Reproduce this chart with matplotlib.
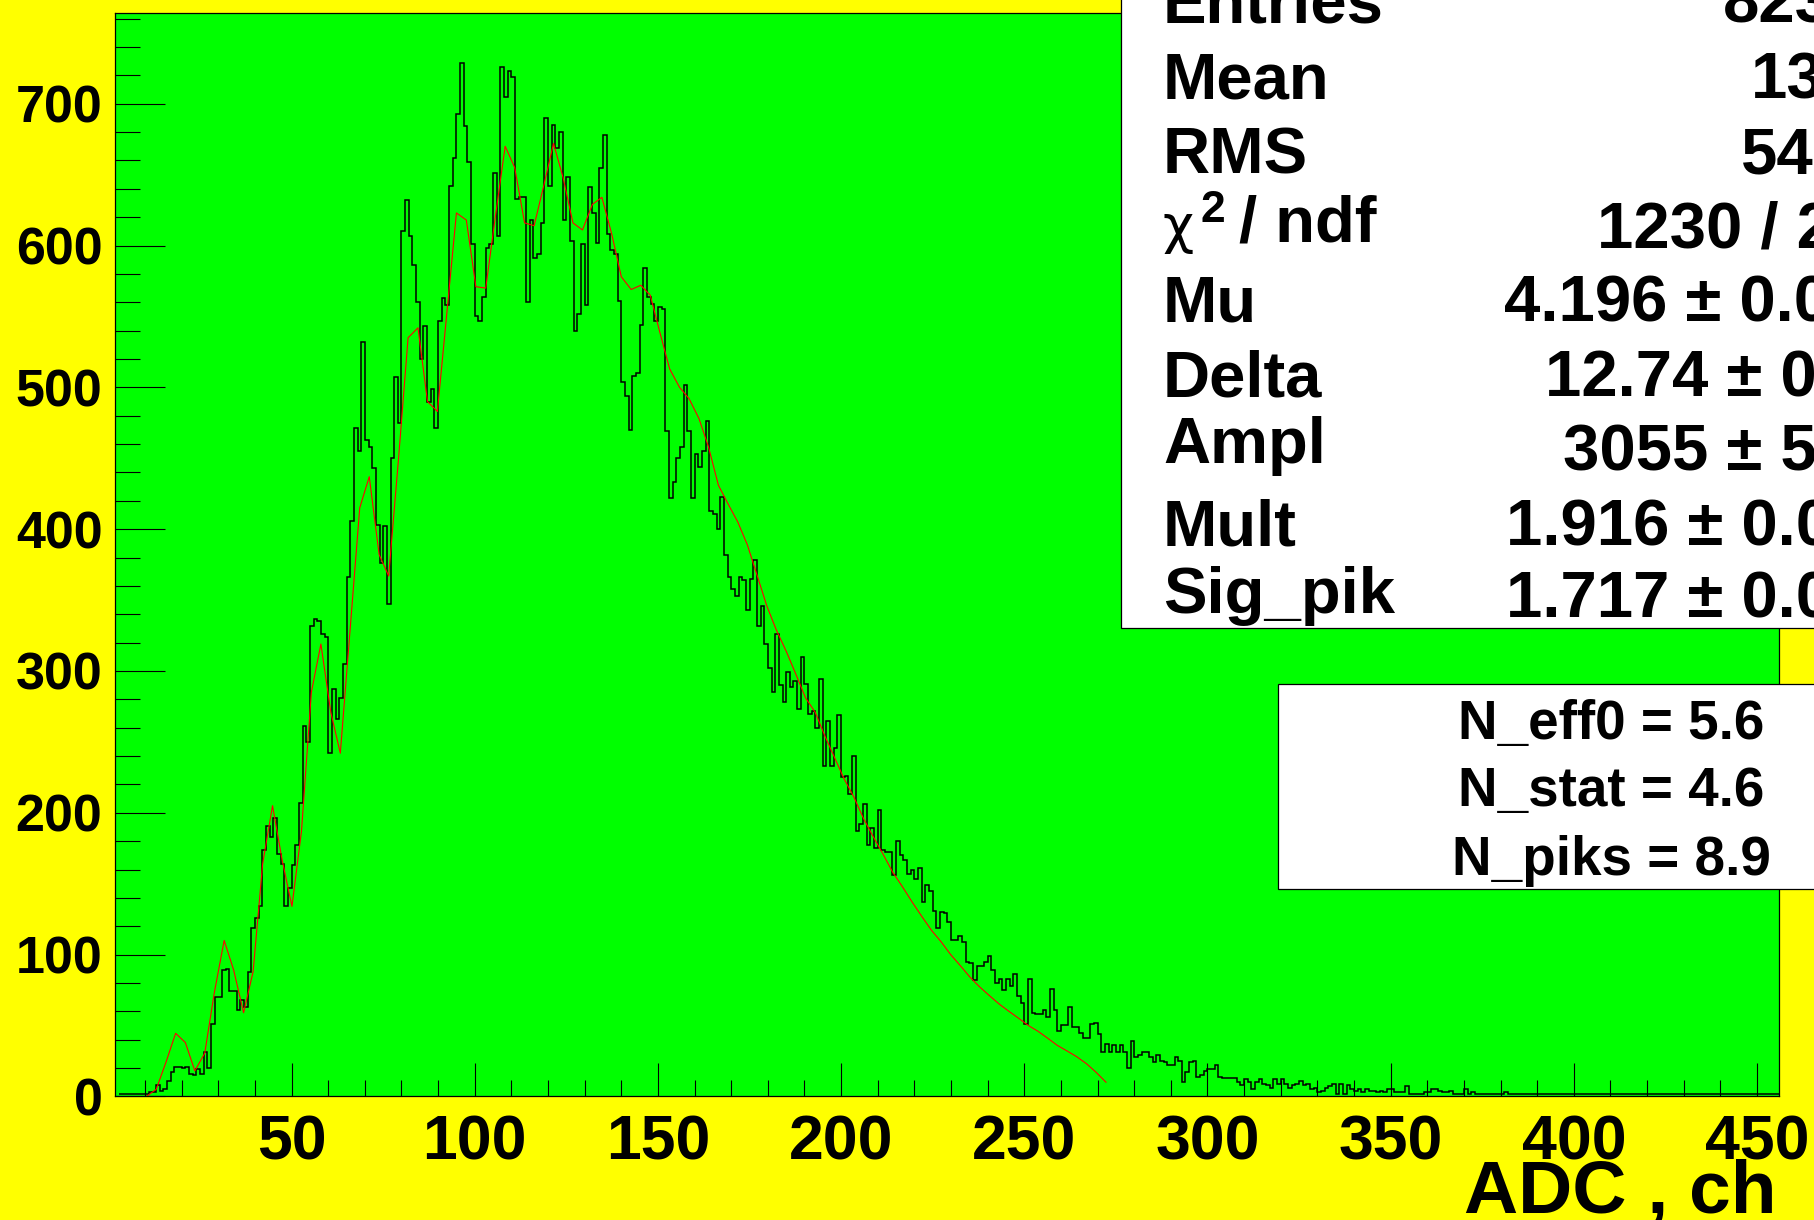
import numpy as np
import matplotlib
matplotlib.use('Agg')
import matplotlib.pyplot as plt
from matplotlib.patches import Rectangle
from matplotlib.ticker import MultipleLocator

plt.rcParams['font.family'] = ['Liberation Sans', 'DejaVu Sans']
plt.rcParams['font.weight'] = 'bold'

# ADC spectrum, one channel per bin, first bin starts at channel 3
first_bin = 3
counts = [
    2, 2, 2, 2, 2, 2, 2, 2,                                   # 3-10
    3, 3, 8, 4, 5, 11, 17, 21, 21, 20,                        # 11-20
    21, 16, 15, 19, 16, 31, 20, 51, 70, 70,
    89, 90, 74, 74, 61, 68, 63, 88, 119, 126,
    134, 174, 191, 183, 196, 171, 164, 134, 147, 163,
    177, 207, 261, 250, 332, 337, 335, 326, 324, 242,
    287, 266, 281, 305, 366, 406, 471, 455, 532, 463,
    458, 443, 403, 376, 402, 347, 450, 507, 475, 610,
    632, 607, 586, 560, 520, 543, 490, 499, 471, 547,
    563, 558, 642, 662, 693, 729, 684, 659, 601, 550,
    547, 564, 598, 601, 651, 607, 726, 705, 723, 719,         # 101-110
    633, 634, 634, 560, 618, 591, 594, 616, 690, 642,
    685, 669, 680, 618, 648, 603, 540, 552, 601, 558,
    641, 623, 602, 655, 678, 608, 597, 594, 561, 504,
    494, 470, 508, 510, 544, 584, 564, 559, 547, 557,
    555, 469, 422, 433, 450, 458, 502, 469, 422, 453,
    444, 455, 476, 413, 411, 400, 423, 382, 366, 358,
    353, 366, 364, 343, 365, 378, 332, 346, 319, 302,
    285, 326, 290, 278, 299, 289, 293, 273, 310, 291,
    270, 272, 260, 294, 233, 265, 233, 246, 269, 225,
    226, 213, 240, 187, 192, 206, 177, 189, 175, 202,         # 201-210
    174, 172, 172, 156, 180, 170, 167, 157, 160, 153,
    161, 137, 149, 145, 131, 119, 130, 129, 123, 110,
    110, 113, 109, 95, 94, 82, 92, 92, 95, 99,
    89, 80, 83, 75, 83, 78, 86, 71, 66, 51,
    83, 59, 58, 58, 61, 56, 76, 61, 46, 50,
    50, 63, 49, 49, 45, 41, 41, 51, 52, 44,
    31, 37, 31, 36, 31, 36, 31, 20, 39, 28,
    29, 31, 31, 28, 24, 29, 25, 24, 22, 22,
    28, 25, 10, 17, 24, 25, 14, 15, 18, 19,
    19, 22, 14, 13, 13, 13, 13, 10, 8, 12,                    # 301-310
    10, 5, 10, 12, 9, 8, 6, 12, 9, 12,
    9, 6, 8, 9, 11, 8, 9, 5, 6, 3,
    4, 6, 7, 9, 2, 9, 2, 8, 5, 4,
    5, 3, 5, 4, 4, 3, 4, 3, 5, 5,
    3, 3, 3, 7, 2, 2, 2, 2, 3, 3,
    5, 5, 4, 3, 3, 4, 2, 2, 2, 5,
    2, 3, 2, 2, 2, 2, 2, 2, 2, 2,
    3, 2, 2, 2, 2, 2, 2, 2, 2, 2,
    2, 2, 2, 2, 2, 2, 2, 2, 2, 2,
    2, 2, 2, 2, 2, 2, 2, 2, 2, 2,                             # 401-410
    2, 2, 2, 2, 2, 2, 2, 2, 2, 2,
    2, 2, 2, 2, 2, 2, 2, 2, 2, 2,
    2, 2, 2, 2, 2, 2, 2, 2, 2, 2,
    2, 2, 2, 2, 2, 2, 2, 2, 2, 2,
    2, 2, 2, 2, 2,                                            # 451-455
]

# fitted function, sampled as drawn
fit_x = [10.4, 13.05, 15.7, 18.35, 21.0, 23.6, 26.3, 28.9, 31.6, 34.2,
         36.9, 39.5, 42.1, 44.8, 47.4, 50.1, 52.7, 55.4, 58.0, 60.7,
         63.3, 66.0, 68.6, 71.2, 73.9, 76.5, 79.2, 81.8, 84.5, 87.1,
         89.8, 92.4, 95.0, 97.7, 100.3, 103.0, 105.6, 108.3, 110.9, 113.6,
         116.2, 118.9, 121.5, 124.1, 126.8, 129.4, 132.1, 134.7, 137.4, 140.0,
         142.7, 145.3, 147.9, 150.6, 153.2, 155.9, 158.5, 161.2, 163.8, 166.5,
         169.1, 171.8, 174.4, 177.0, 179.7, 182.3, 185.0, 187.6, 190.3, 192.9,
         195.6, 198.2, 200.8, 203.5, 206.1, 208.8, 211.4, 214.1, 216.7, 219.4,
         222.0, 224.7, 227.3, 229.9, 232.6, 235.2, 237.9, 240.5, 243.2, 245.8,
         248.5, 251.1, 253.7, 256.4, 259.0, 261.7, 264.3, 267.0, 269.6, 272.3]
fit_y = [0, 5, 24, 44.5, 38, 18, 30.5, 73, 110, 89,
         59, 88, 164, 205, 167, 134, 187, 285, 319, 271,
         242, 330, 415, 437, 382, 367, 450, 535, 542, 490,
         483, 553, 623, 618, 571, 570, 620, 670, 655, 616,
         614, 643, 672, 648, 616, 611, 629, 634, 608, 578,
         569, 572, 565, 538, 513, 500, 492, 478, 458, 431,
         418, 405, 389, 368, 346, 329, 314, 298, 281, 271,
         254, 239, 224, 211, 196, 183, 171, 158, 148, 137,
         127, 117, 109, 100, 92, 84, 77, 71, 65, 60,
         55, 50, 46, 41, 36, 32, 28, 23, 17, 10]

stat_labels = ['Entries', 'Mean', 'RMS', '', 'Mu', 'Delta', 'Ampl', 'Mult', 'Sig_pik']
stat_values = ['823', '13', '54', '1230 / 2', '4.196 \u00b1 0.0', '12.74 \u00b1 0',
               '3055 \u00b1 5', '1.916 \u00b1 0.0', '1.717 \u00b1 0.0']
extra_lines = ['N_eff0 = 5.6', 'N_stat = 4.6', 'N_piks = 8.9']

W, H = 1815, 1220
yellow = '#ffff00'
green = '#00ff00'


def fx(x):
    return x / W


def fy(y):
    return 1 - y / H


fig = plt.figure(figsize=(W / 100, H / 100), dpi=100, facecolor=yellow)
ax = fig.add_axes([fx(115), fy(1096.4), fx(1779 - 115), (1096.4 - 13) / H])
ax.set_facecolor(green)

edges = np.arange(first_bin, first_bin + len(counts) + 1)
ax.stairs(counts, edges, baseline=None, color='black', linewidth=1.1)
ax.plot(fit_x, fit_y, color='red', linewidth=0.8)

ax.set_xlim(1.8, 456)
ax.set_ylim(0, 764)
ax.xaxis.set_major_locator(MultipleLocator(50))
ax.xaxis.set_minor_locator(MultipleLocator(10))
ax.yaxis.set_major_locator(MultipleLocator(100))
ax.yaxis.set_minor_locator(MultipleLocator(20))
ax.tick_params(axis='x', which='major', direction='in', length=23.5, width=0.8,
               pad=12, labelsize=45)
ax.tick_params(axis='x', which='minor', direction='in', length=11.5, width=0.8)
ax.tick_params(axis='y', which='major', direction='in', length=36, width=0.8,
               pad=9, labelsize=37.5)
ax.tick_params(axis='y', which='minor', direction='in', length=18, width=0.8)
for s in ax.spines.values():
    s.set_linewidth(0.9)

fig.text(fx(1777), fy(1212.7), 'ADC , ch', ha='right', va='baseline', fontsize=54)

# statistics box (runs off the top and right of the canvas)
fig.add_artist(Rectangle((fx(1121), fy(628)), 0.6, 0.7, transform=fig.transFigure,
                         facecolor='white', edgecolor='black', linewidth=0.9))
label_base = [22.8, 98.3, 173.3, 241.7, 321.3, 396.8, 463.5, 546, 612.8]
value_base = [22.8, 98.3, 173.3, 247.5, 321.3, 396.8, 470.6, 546, 617.7]
value_left = [1722.4, 1751, 1740.7, 1597, 1504.5, 1544.6, 1562.8, 1505.8, 1505.8]
for lab, val, yb, yv, xv in zip(stat_labels, stat_values, label_base, value_base, value_left):
    if lab:
        fig.text(fx(1163), fy(yb), lab, ha='left', va='baseline', fontsize=47)
    fig.text(fx(xv), fy(yv), val, ha='left', va='baseline', fontsize=47)
fig.text(fx(1163), fy(243), '\u03c7', ha='left', va='baseline', fontsize=39,
         fontweight='normal', family='DejaVu Sans')
fig.text(fx(1201), fy(221.8), '2', ha='left', va='baseline', fontsize=32)
fig.text(fx(1239), fy(241.7), '/ ndf', ha='left', va='baseline', fontsize=47)

# second text box
fig.add_artist(Rectangle((fx(1278), fy(889)), 0.5, (889 - 684) / H, transform=fig.transFigure,
                         facecolor='white', edgecolor='black', linewidth=0.9))
for line, yb in zip(extra_lines, [739, 806.3, 874.6]):
    fig.text(fx(1611), fy(yb), line, ha='center', va='baseline', fontsize=39.5)

fig.savefig('out.png', dpi=100, facecolor=yellow)
